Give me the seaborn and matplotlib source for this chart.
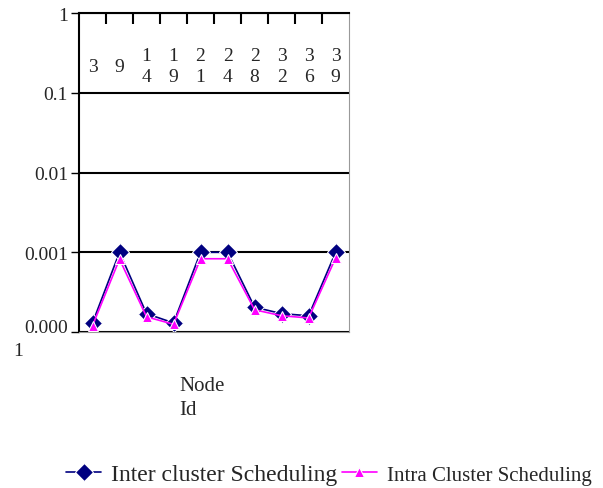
import pandas as pd
import seaborn as sns
import matplotlib.pyplot as plt

# valores
node_ids = ['3', '9', '14', '19', '21', '24', '28', '32', '36', '39']
inter_cluster = [1.3e-4, 1.0e-3, 1.7e-4, 1.3e-4, 1.0e-3, 1.0e-3, 2.05e-4, 1.7e-4, 1.6e-4, 1.0e-3]
intra_cluster = [1.2e-4, 0.82e-3, 1.55e-4, 1.25e-4, 0.83e-3, 0.83e-3, 1.9e-4, 1.6e-4, 1.5e-4, 0.85e-3]
y_ticks = [1e-4, 1e-3, 1e-2, 1e-1, 1]
y_labels = ['0.000', '0.001', '0.01', '0.1', '1']

df = pd.DataFrame({
    'pos': list(range(len(node_ids))) * 2,
    'value': inter_cluster + intra_cluster,
    'serie': ['Inter cluster Scheduling'] * len(node_ids) + ['Intra Cluster Scheduling'] * len(node_ids),
})

sns.set_style('white')
plt.rcParams['font.family'] = ['Liberation Serif', 'DejaVu Serif']

fig = plt.figure(figsize=(6.03, 4.89), dpi=100)
ax = fig.add_axes([0.131, 0.319, 0.448, 0.652])

ax = sns.lineplot(
    data=df, x='pos', y='value', hue='serie', style='serie',
    palette=['#000080', '#FF00FF'], markers=['D', '^'], dashes=False,
    markersize=9, linewidth=1.2, ax=ax, legend=False,
)
lines = ax.get_lines()
lines[0].set_markersize(9)
lines[1].set_markersize(7)
lines[1].set_zorder(3)

ax.set_yscale('log')
ax.set_ylim(1e-4, 1)
ax.set_xlim(-0.5, len(node_ids) - 0.5)
ax.set_yticks(y_ticks)
ax.set_yticklabels(y_labels, fontsize=14)
ax.get_yticklabels()[0].set_verticalalignment('baseline')
ax.minorticks_off()
ax.yaxis.grid(True, color='black', linewidth=1.5)
ax.tick_params(axis='y', left=True, length=6, width=1, color='black', pad=2)

# ticks na parte de cima, entre categorias
ax.xaxis.tick_top()
ax.set_xticks([i + 0.5 for i in range(len(node_ids) - 1)])
ax.set_xticklabels([])
ax.tick_params(axis='x', top=True, direction='in', length=8, width=1.5, color='black')
ax.set_xlabel('')
ax.set_ylabel('')

for i, lab in enumerate(node_ids):
    ax.text(i, 0.834, '\n'.join(lab), transform=ax.get_xaxis_transform(),
            ha='center', va='center', fontsize=14, linespacing=1.25)

for s in ['left', 'top']:
    ax.spines[s].set_color('black')
    ax.spines[s].set_linewidth(1.5)
ax.spines['bottom'].set_color('#999999')
ax.spines['right'].set_color('#999999')

# resto do rótulo "0.000 1"
fig.text(0.022, 1 - 352 / 489, '1', ha='left', va='center', fontsize=14)

fig.text(0.298, 0.185, 'Node\nId', ha='left', va='center', fontsize=15, linespacing=1.4)

leg = fig.legend(
    handles=lines, labels=['Inter cluster Scheduling', 'Intra Cluster Scheduling'],
    loc='center', bbox_to_anchor=(0.545, 0.028), ncol=2, frameon=False,
    handlelength=1.5, handletextpad=0.4, columnspacing=0.2, fontsize=17,
)
leg.get_texts()[1].set_fontsize(15)

fig.savefig('out.png', dpi=100)
